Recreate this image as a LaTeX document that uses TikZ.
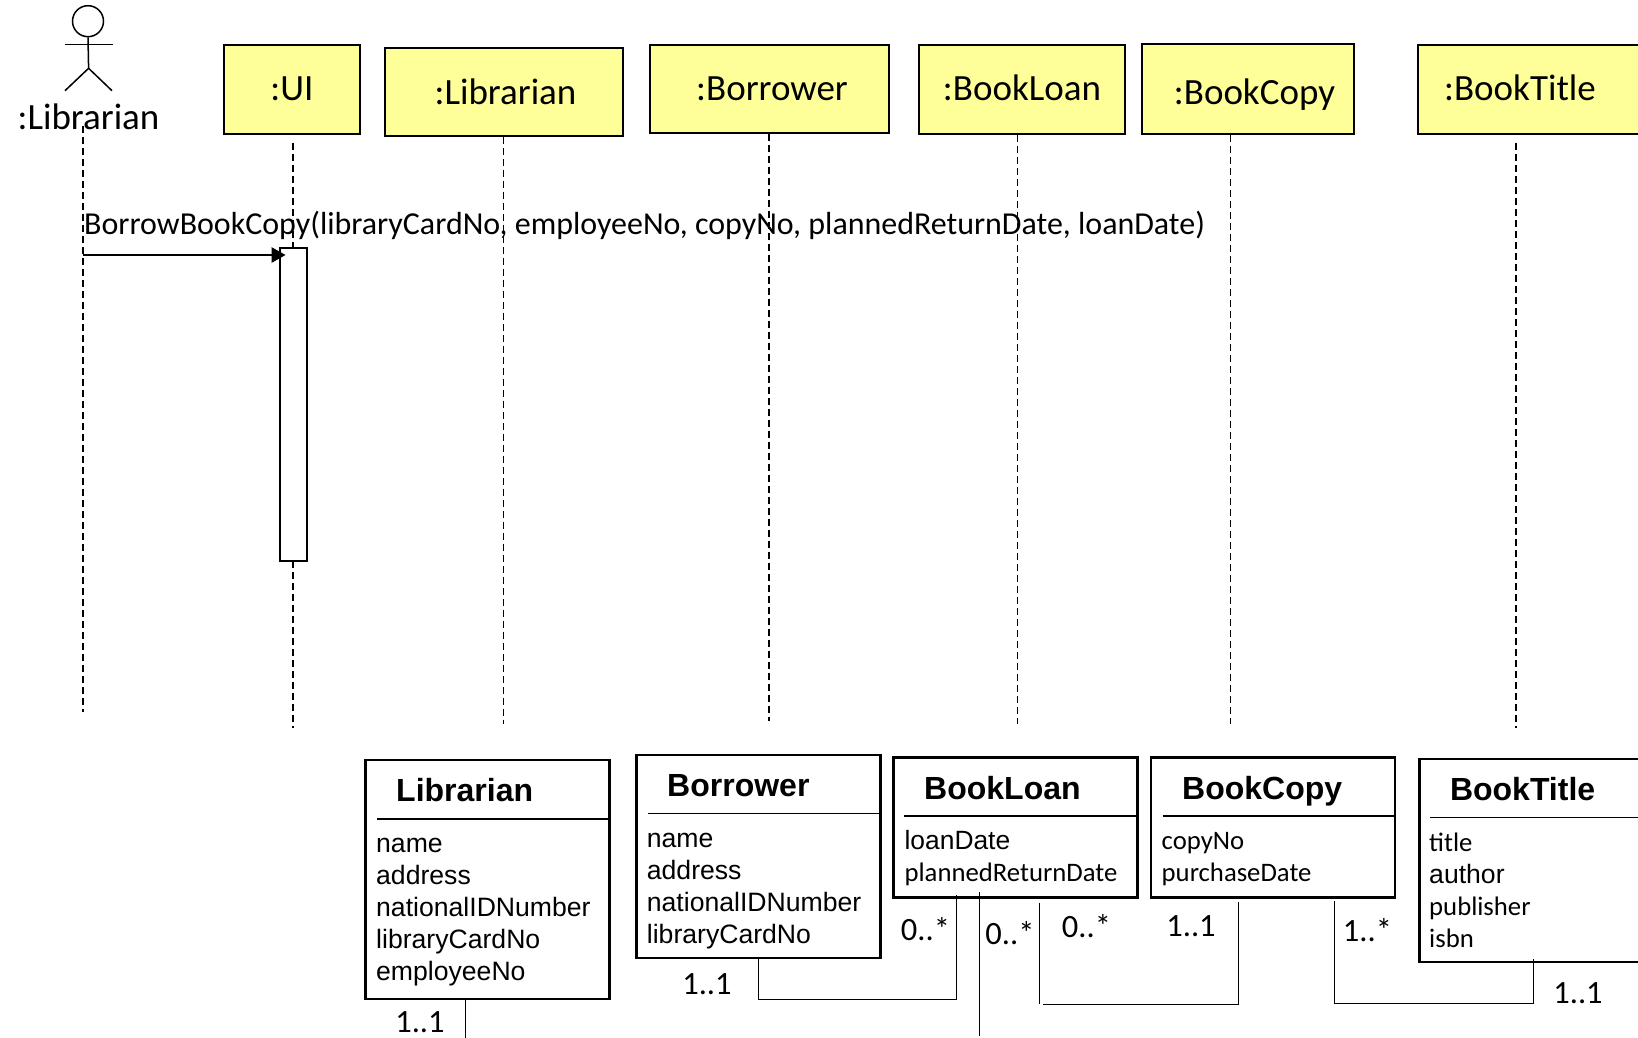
\documentclass[tikz,border=0pt]{standalone}
\usepackage{fontspec}
\setmainfont{Carlito}
\newfontfamily\arialfont{Liberation Sans}
\usetikzlibrary{arrows.meta}
\definecolor{objyellow}{HTML}{FFFF99}
\tikzset{
  obj/.style={rectangle, draw=black, line width=1.8pt, fill=objyellow, font=\fontsize{37}{40}\selectfont, inner sep=0pt},
  lifeline/.style={draw=black, line width=1.5pt, dash pattern=on 7pt off 4pt},
  act/.style={rectangle, draw=black, line width=1.5pt, fill=white, minimum width=27pt, minimum height=313pt, inner sep=0pt},
  msg/.style={line width=2.5pt, -{Triangle[length=14pt,width=15pt]}},
  cls/.style={rectangle, draw=black, line width=2.5pt, fill=white, inner sep=0pt},
  clstitle/.style={anchor=west, inner sep=0pt, font=\arialfont\bfseries\fontsize{32}{36}\selectfont},
  attrs/.style={anchor=west, inner sep=0pt, align=left, font=\arialfont\fontsize{26.6}{32}\selectfont},
  calattrs/.style={anchor=west, inner sep=0pt, align=left, font=\fontsize{26.7}{32}\selectfont},
  mult/.style={inner sep=0pt, font=\fontsize{32.5}{36}\selectfont},
  sep/.style={line width=1.2pt},
  assoc/.style={line width=1pt}
}
\begin{document}
\begin{tikzpicture}[x=1pt,y=-1pt]
	\useasboundingbox (0,0) rectangle (1638,1038);
	% actor
	\node[circle, draw=black, line width=1.5pt, minimum size=31pt, inner sep=0pt] (head) at (88,21.2) {};
	\coordinate (hip) at (88.6,68.3);
	\coordinate (armL) at (65,44.7);
	\coordinate (armR) at (112.7,44.7);
	\coordinate (legL) at (65,90.7);
	\coordinate (legR) at (112,90.7);
	\draw[line width=1.5pt] (head.south) -- (hip);
	\draw[line width=1.5pt] (armL) -- (armR);
	\draw[line width=1.5pt] (legL) -- (hip) -- (legR);
	\node[inner sep=0pt, font=\fontsize{37}{40}\selectfont] (actor) at (88.5,117) {:Librarian};
	% objects
	\node[obj, minimum width=136pt, minimum height=89pt] (ui) at (291.9,89.3) {\raisebox{-11.5pt}[0pt][0pt]{:UI}};
	\node[obj, minimum width=238pt, minimum height=88pt] (librarian) at (504,91.7) {\hspace*{3pt}:Librarian};
	\node[obj, minimum width=239pt, minimum height=88pt] (borrower) at (769.5,89) {\hspace*{5pt}:Borrower};
	\node[obj, minimum width=206pt, minimum height=89pt] (bookloan) at (1022,89.5) {\raisebox{-11.5pt}[0pt][0pt]{:BookLoan}};
	\node[obj, minimum width=212pt, minimum height=90pt] (bookcopy) at (1248,89) {\hspace*{13pt}\raisebox{-16pt}[0pt][0pt]{:BookCopy}};
	\node[obj, minimum width=232pt, minimum height=89pt] (booktitle) at (1534,89.5) {\raisebox{-11.5pt}[0pt][0pt]{:BookTitle}\hspace*{28pt}};
	% lifelines
	\coordinate (actorA) at (83,126);
	\coordinate (actorB) at (83,712);
	\coordinate (uiA) at (293,143);
	\coordinate (uiB) at (293,728);
	\coordinate (librarianB) at (503.5,724);
	\coordinate (borrowerB) at (769,721);
	\coordinate (bookloanB) at (1017.5,724);
	\coordinate (bookcopyB) at (1230.5,724);
	\coordinate (booktitleA) at (1516,143);
	\coordinate (booktitleB) at (1516,728);
	\draw[lifeline] (actorA) -- (actorB);
	\draw[lifeline] (uiA) -- (uiB);
	\draw[lifeline] (librarian.south -| librarianB) -- (librarianB);
	\draw[lifeline] (borrower.south -| borrowerB) -- (borrowerB);
	\draw[lifeline] (bookloan.south -| bookloanB) -- (bookloanB);
	\draw[lifeline] (bookcopy.south -| bookcopyB) -- (bookcopyB);
	\draw[lifeline] (booktitleA) -- (booktitleB);
	% message
	\node[act] (uiact) at (293.6,404.3) {};
	\coordinate (msgstart) at (83,255);
	\draw[msg, shorten >=8pt] (msgstart) -- (msgstart -| uiact.center);
	\node[anchor=west, inner sep=0pt, font=\fontsize{31.95}{36}\selectfont] (msgtext) at (84,225.5) {BorrowBookCopy(libraryCardNo, employeeNo, copyNo, plannedReturnDate, loanDate)};
	% classes
	\node[cls, minimum width=244pt, minimum height=239pt] (clslibrarian) at (487.7,879.6) {};
	\node[clstitle] (tlibrarian) at (396,790) {Librarian};
	\draw[sep] (377,819) -- (clslibrarian.east |- 0,819);
	\node[attrs] (alibrarian) at (376,912) {name\\address\\nationalIDNumber\\libraryCardNo\\employeeNo};
	\node[cls, minimum width=244pt, minimum height=203pt] (clsborrower) at (758.5,856.3) {};
	\node[clstitle] (tborrower) at (667,786) {Borrower};
	\draw[sep] (647.7,813.3) -- (clsborrower.east |- 0,813.3);
	\node[attrs] (aborrower) at (646.7,891.5) {name\\address\\nationalIDNumber\\libraryCardNo};
	\node[cls, minimum width=244pt, minimum height=140pt] (clsbookloan) at (1015.6,827.5) {};
	\node[clstitle] (tbookloan) at (924,788) {BookLoan};
	\draw[sep] (904.4,816) -- (clsbookloan.east |- 0,816);
	\node[attrs, font=\arialfont\fontsize{26.4}{32}\selectfont] (abookloan) at (904.4,858.5) {loanDate\\{\rmfamily\fontsize{26.7}{32}\selectfont plannedReturnDate}};
	\node[cls, minimum width=244pt, minimum height=140pt] (clsbookcopy) at (1272.8,827.5) {};
	\node[clstitle] (tbookcopy) at (1182,791) {BookCopy};
	\draw[sep] (1162.5,816) -- (clsbookcopy.east |- 0,816);
	\node[calattrs] (abookcopy) at (1161.5,859) {copyNo\\purchaseDate};
	\node[cls, minimum width=244pt, minimum height=203pt] (clsbooktitle) at (1541.4,860.3) {};
	\node[clstitle] (tbooktitle) at (1449.8,789) {BookTitle};
	\draw[sep] (1430,817.7) -- (clsbooktitle.east |- 0,817.7);
	\node[calattrs] (abooktitle) at (1429,890.5) {title\\{\arialfont\fontsize{26.6}{32}\selectfont author}\\publisher\\isbn};
	% associations
	\coordinate (librarianend) at (465,1038);
	\coordinate (borrowerjoin) at (758.4,999.3);
	\coordinate (loanjoin) at (956.6,999.3);
	\coordinate (loanA) at (956.6,895);
	\coordinate (loanB) at (979,891.7);
	\coordinate (loanBend) at (979,1036);
	\coordinate (loanC) at (1039.6,902.7);
	\coordinate (loanCend) at (1039.6,1004);
	\coordinate (copyjoinL) at (1043,1004.7);
	\coordinate (copyjoinR) at (1238,1004.7);
	\coordinate (copyA) at (1238,902.3);
	\coordinate (copyB) at (1334.6,901);
	\coordinate (copyBend) at (1334.6,1003.5);
	\coordinate (titlejoin) at (1533,1003.5);
	\coordinate (titleA) at (1533,959);
	\draw[assoc] (clslibrarian.south -| librarianend) -- (librarianend);
	\draw[assoc] (clsborrower.south -| borrowerjoin) -- (borrowerjoin) -- (loanjoin) -- (loanA);
	\draw[assoc] (loanB) -- (loanBend);
	\draw[assoc] (loanC) -- (loanCend);
	\draw[assoc] (copyjoinL) -- (copyjoinR) -- (copyA);
	\draw[assoc] (copyB) -- (copyBend) -- (titlejoin) -- (titleA);
	% multiplicities
	\node[mult] (m1) at (420,1022) {1..1};
	\node[mult] (m2) at (707,984.5) {1..1};
	\node[mult] (m3) at (925.5,929.5) {0..*};
	\node[mult] (m4) at (1010,933.5) {0..*};
	\node[mult] (m5) at (1086.5,926) {0..*};
	\node[mult] (m6) at (1191,925.7) {1..1};
	\node[mult] (m7) at (1367.5,930) {1..*};
	\node[mult] (m8) at (1578,993) {1..1};
\end{tikzpicture}
\end{document}
